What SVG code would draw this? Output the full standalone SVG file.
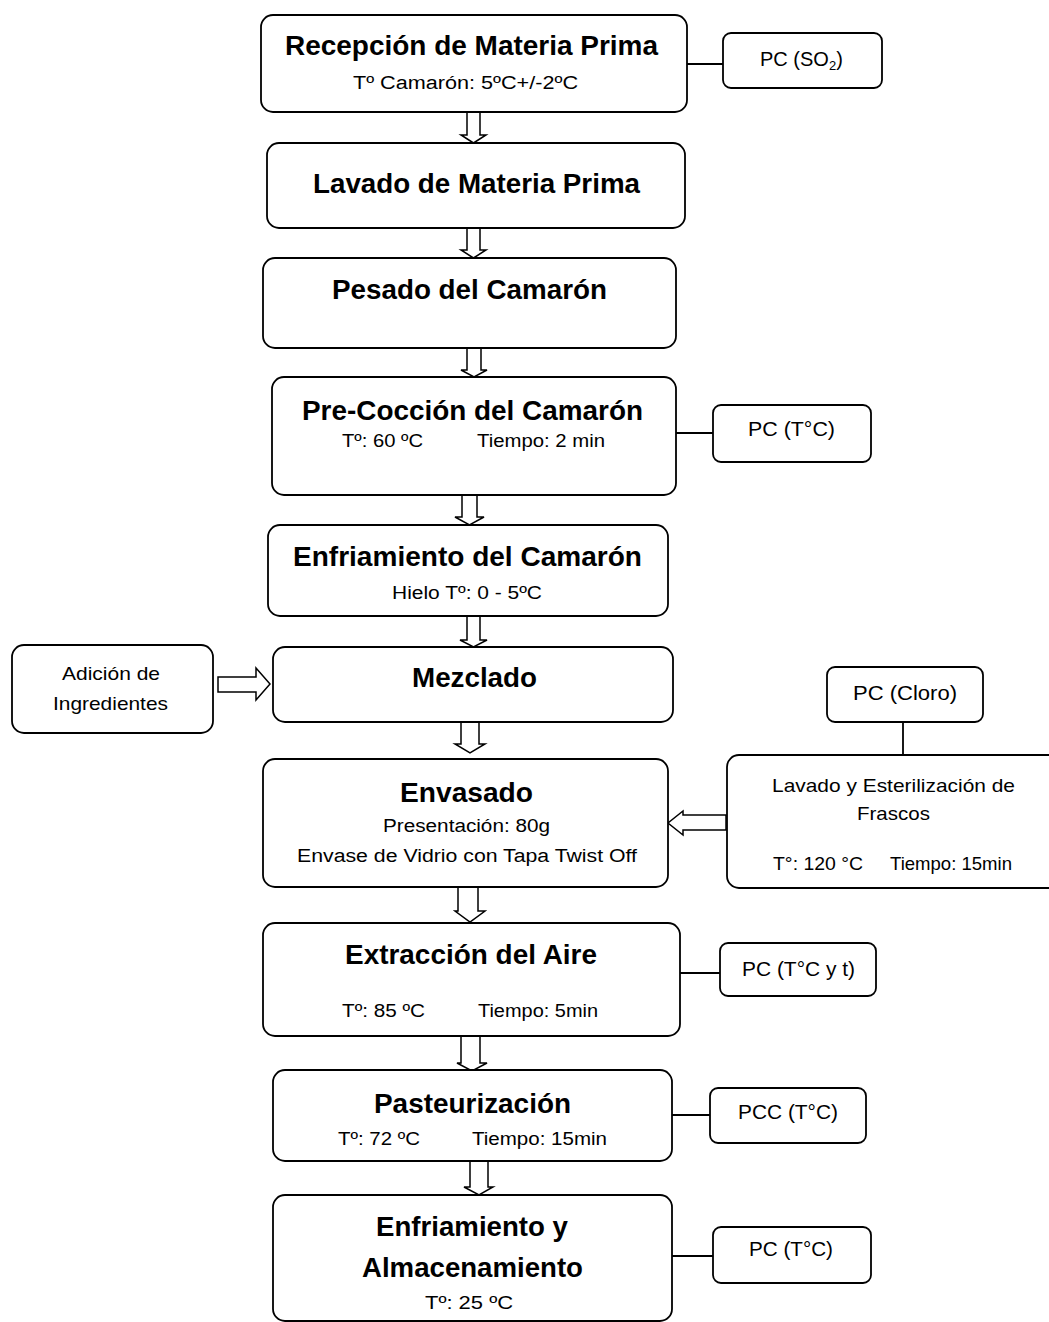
<svg xmlns="http://www.w3.org/2000/svg" width="1049" height="1322" viewBox="0 0 1049 1322">
<style>
.box{fill:#fff;stroke:#000;stroke-width:1.8}
.ln{fill:none;stroke:#000;stroke-width:1.8}
.ar{fill:#fff;stroke:#000;stroke-width:1.5;stroke-linejoin:miter}
text{font-family:"Liberation Sans",Arial,sans-serif;fill:#000}
.t{font-size:27px;font-weight:bold}
.s{font-size:18px}
.p{font-size:20px}
.m{font-size:19px}
</style>
<rect width="1049" height="1322" fill="#fff"/>
<g id="connectors">
<line class="ln" x1="687" y1="64" x2="723" y2="64"/>
<line class="ln" x1="676" y1="433" x2="713" y2="433"/>
<line class="ln" x1="903" y1="722" x2="903" y2="755"/>
<line class="ln" x1="680" y1="973" x2="720" y2="973"/>
<line class="ln" x1="672" y1="1115" x2="710" y2="1115"/>
<line class="ln" x1="672" y1="1256" x2="713" y2="1256"/>
<path class="ar" d="M467 112 L480 112 L480 135 L486 135 L473.5 143 L461 135 L467 135 Z"/>
<path class="ar" d="M467 228 L480 228 L480 250 L486 250 L473.5 258 L461 250 L467 250 Z"/>
<path class="ar" d="M467 348 L481 348 L481 370 L487 370 L474 377 L461 370 L467 370 Z"/>
<path class="ar" d="M462 495 L477 495 L477 517 L484 517 L469.5 525 L455 517 L462 517 Z"/>
<path class="ar" d="M467 616 L480 616 L480 640 L487 640 L473.5 647 L460 640 L467 640 Z"/>
<path class="ar" d="M461 722 L479 722 L479 744 L485 744 L470 753 L455 744 L461 744 Z"/>
<path class="ar" d="M458 887 L478 887 L478 911 L485 911 L470 922 L455 911 L458 911 Z"/>
<path class="ar" d="M461 1036 L480 1036 L480 1063 L487 1063 L472 1071 L457 1063 L461 1063 Z"/>
<path class="ar" d="M470 1161 L488 1161 L488 1187 L493 1187 L479 1195 L464 1187 L470 1187 Z"/>
<path class="ar" d="M218 677 L256 677 L256 668 L270 684 L256 700 L256 692 L218 692 Z"/>
<path class="ar" d="M726 815 L683 815 L683 811 L668 823 L683 835 L683 830 L726 830 Z"/>
</g>
<g id="n1"><rect class="box" x="261" y="15" width="426" height="97" rx="12"/>
<text class="t" x="285" y="55" textLength="373" lengthAdjust="spacingAndGlyphs">Recepción de Materia Prima</text>
<text class="s" x="353" y="89" textLength="225" lengthAdjust="spacingAndGlyphs">Tº Camarón: 5ºC+/-2ºC</text></g>
<g id="pc1"><rect class="box" x="723" y="33" width="159" height="55" rx="8"/>
<text class="p" x="760" y="66">PC (SO<tspan font-size="13" dy="4">2</tspan><tspan dy="-4">)</tspan></text></g>
<g id="n2"><rect class="box" x="267" y="143" width="418" height="85" rx="12"/>
<text class="t" x="313" y="193" textLength="327" lengthAdjust="spacingAndGlyphs">Lavado de Materia Prima</text></g>
<g id="n3"><rect class="box" x="263" y="258" width="413" height="90" rx="12"/>
<text class="t" x="332" y="299" textLength="275" lengthAdjust="spacingAndGlyphs">Pesado del Camarón</text></g>
<g id="n4"><rect class="box" x="272" y="377" width="404" height="118" rx="12"/>
<text class="t" x="302" y="420" textLength="341" lengthAdjust="spacingAndGlyphs">Pre-Cocción del Camarón</text>
<text class="s" x="342" y="447" textLength="81" lengthAdjust="spacingAndGlyphs">Tº: 60 ºC</text>
<text class="s" x="477" y="447" textLength="128" lengthAdjust="spacingAndGlyphs">Tiempo: 2 min</text></g>
<g id="pc2"><rect class="box" x="713" y="405" width="158" height="57" rx="8"/>
<text class="p" x="748" y="436" textLength="87" lengthAdjust="spacingAndGlyphs">PC (T°C)</text></g>
<g id="n5"><rect class="box" x="268" y="525" width="400" height="91" rx="12"/>
<text class="t" x="293" y="566" textLength="349" lengthAdjust="spacingAndGlyphs">Enfriamiento del Camarón</text>
<text class="s" x="392" y="599" textLength="150" lengthAdjust="spacingAndGlyphs">Hielo Tº: 0 - 5ºC</text></g>
<g id="n6"><rect class="box" x="273" y="647" width="400" height="75" rx="12"/>
<text class="t" x="412" y="687" textLength="125" lengthAdjust="spacingAndGlyphs">Mezclado</text></g>
<g id="n6a"><rect class="box" x="12" y="645" width="201" height="88" rx="12"/>
<text class="m" x="62" y="680" textLength="98" lengthAdjust="spacingAndGlyphs">Adición de</text>
<text class="m" x="53" y="710" textLength="115" lengthAdjust="spacingAndGlyphs">Ingredientes</text></g>
<g id="pcc1"><rect class="box" x="827" y="667" width="156" height="55" rx="8"/>
<text class="p" x="853" y="700" textLength="104" lengthAdjust="spacingAndGlyphs">PC (Cloro)</text></g>
<g id="n7a"><rect class="box" x="727" y="755" width="340" height="133" rx="12"/>
<text class="m" x="772" y="792" textLength="243" lengthAdjust="spacingAndGlyphs">Lavado y Esterilización de</text>
<text class="m" x="857" y="820" textLength="73" lengthAdjust="spacingAndGlyphs">Frascos</text>
<text class="m" x="773" y="870" textLength="90" lengthAdjust="spacingAndGlyphs">T°: 120 °C</text>
<text class="m" x="890" y="870" textLength="122" lengthAdjust="spacingAndGlyphs">Tiempo: 15min</text></g>
<g id="n7"><rect class="box" x="263" y="759" width="405" height="128" rx="12"/>
<text class="t" x="400" y="802" textLength="133" lengthAdjust="spacingAndGlyphs">Envasado</text>
<text class="s" x="383" y="832" textLength="167" lengthAdjust="spacingAndGlyphs">Presentación: 80g</text>
<text class="s" x="297" y="862" textLength="340" lengthAdjust="spacingAndGlyphs">Envase de Vidrio con Tapa Twist Off</text></g>
<g id="n8"><rect class="box" x="263" y="923" width="417" height="113" rx="12"/>
<text class="t" x="345" y="964" textLength="252" lengthAdjust="spacingAndGlyphs">Extracción del Aire</text>
<text class="s" x="342" y="1017" textLength="83" lengthAdjust="spacingAndGlyphs">Tº: 85 ºC</text>
<text class="s" x="478" y="1017" textLength="120" lengthAdjust="spacingAndGlyphs">Tiempo: 5min</text></g>
<g id="pc3"><rect class="box" x="720" y="943" width="156" height="53" rx="8"/>
<text class="p" x="742" y="976" textLength="113" lengthAdjust="spacingAndGlyphs">PC (T°C y t)</text></g>
<g id="n9"><rect class="box" x="273" y="1070" width="399" height="91" rx="12"/>
<text class="t" x="374" y="1113" textLength="197" lengthAdjust="spacingAndGlyphs">Pasteurización</text>
<text class="s" x="338" y="1145" textLength="82" lengthAdjust="spacingAndGlyphs">Tº: 72 ºC</text>
<text class="s" x="472" y="1145" textLength="135" lengthAdjust="spacingAndGlyphs">Tiempo: 15min</text></g>
<g id="pcc"><rect class="box" x="710" y="1088" width="156" height="55" rx="8"/>
<text class="p" x="738" y="1119" textLength="100" lengthAdjust="spacingAndGlyphs">PCC (T°C)</text></g>
<g id="n10"><rect class="box" x="273" y="1195" width="399" height="126" rx="12"/>
<text class="t" x="376" y="1236" textLength="192" lengthAdjust="spacingAndGlyphs">Enfriamiento y</text>
<text class="t" x="362" y="1277" textLength="221" lengthAdjust="spacingAndGlyphs">Almacenamiento</text>
<text class="s" x="425" y="1309" textLength="88" lengthAdjust="spacingAndGlyphs">Tº: 25 ºC</text></g>
<g id="pc4"><rect class="box" x="713" y="1227" width="158" height="56" rx="8"/>
<text class="p" x="749" y="1256" textLength="84" lengthAdjust="spacingAndGlyphs">PC (T°C)</text></g>
</svg>
